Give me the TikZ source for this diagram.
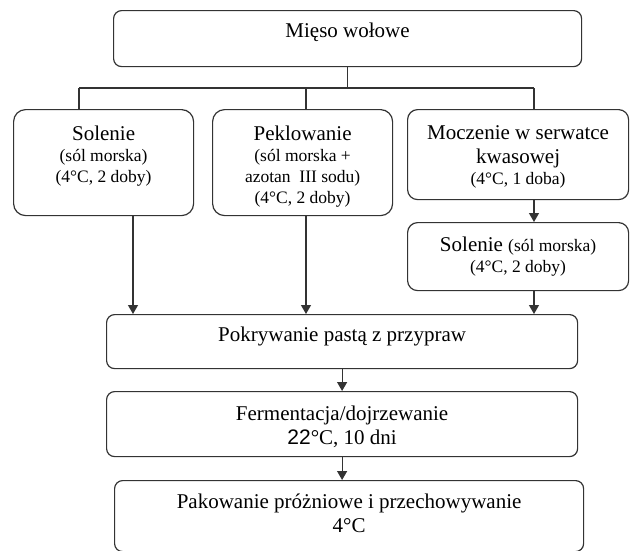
\documentclass[tikz,border=0pt]{standalone}
\usepackage{fontspec}
\setmainfont{Liberation Serif}
\setsansfont{Liberation Sans}
\usetikzlibrary{positioning,arrows.meta}
\newcommand\bigsz{\fontsize{21}{21}\rmfamily\selectfont}
\newcommand\smsz{\fontsize{17.5}{21}\rmfamily\selectfont}
\tikzset{
  stage/.style={draw=black!80,line width=1.2pt,rounded corners=#1,anchor=north west,inner sep=0pt},
  stage/.default=8pt,
  txt/.style={align=center,inner sep=0pt,font=\bigsz},
  line/.style={draw=black!80,line width=1.2pt},
  arr/.style={line,-{Triangle[length=9pt,width=10pt]}}
}
\begin{document}
\begin{tikzpicture}[x=1pt,y=-1pt]
\useasboundingbox (0,0) rectangle (630,550);
\node[stage,minimum width=468pt,minimum height=56pt] (mieso) at (113,10) {};
\node[stage=12pt,minimum width=180pt,minimum height=106pt] (solenie) at (13,109) {};
\node[stage=12pt,minimum width=180pt,minimum height=106pt] (peklowanie) at (212,109) {};
\node[stage=10pt,minimum width=221pt,minimum height=90pt] (moczenie) at (407,109) {};
\node[stage=10pt,minimum width=221pt,minimum height=68pt] (solenieb) at (407,222) {};
\node[stage,minimum width=471pt,minimum height=54pt] (pokrywanie) at (106,314) {};
\node[stage,minimum width=471pt,minimum height=65pt] (fermentacja) at (106,391) {};
\node[stage,minimum width=469pt,minimum height=71pt] (pakowanie) at (114,480) {};

\node[txt,below=12.6pt of mieso.north] {Mięso wołowe};
\node[txt,below=16.6pt of solenie.north] {Solenie\\{\smsz (sól morska)}\\{\smsz (4°C, 2 doby)}};
\node[txt,below=16.6pt of peklowanie.north] {Peklowanie\\{\smsz (sól morska +}\\{\smsz azotan\ \ III sodu)}\\{\smsz (4°C, 2 doby)}};
\node[txt,below=16.6pt of moczenie.north] {Moczenie w serwatce\\[3pt]kwasowej\\{\smsz (4°C, 1 doba)}};
\node[txt,below=14.3pt of solenieb.north] {Solenie {\smsz (sól morska)}\\{\smsz (4°C, 2 doby)}};
\node[txt,below=12.3pt of pokrywanie.north] {Pokrywanie pastą z przypraw};
\node[txt,below=15pt of fermentacja.north] {Fermentacja/dojrzewanie\\[2.5pt]{\sffamily 22}°C, 10 dni};
\node[txt,below=13.6pt of pakowanie.north] {Pakowanie próżniowe i przechowywanie\\[3.5pt]4°C};

\coordinate (jl) at (79,88);
\coordinate (jm) at (306,88);
\coordinate (jr) at (534,88);
\coordinate (c1) at (133,0);

\path[line] (mieso.south) -- (mieso.south |- jl);
\path[line] (jl) -- (jr);
\path[line] (jl) -- (jl |- solenie.north);
\path[line] (jm) -- (jm |- peklowanie.north);
\path[line] (jr) -- (jr |- moczenie.north);
\draw[arr] (moczenie.south -| jr) -- (solenieb.north -| jr);
\draw[arr] (solenie.south -| c1) -- (pokrywanie.north -| c1);
\draw[arr] (peklowanie.south -| jm) -- (pokrywanie.north -| jm);
\draw[arr] (solenieb.south -| jr) -- (pokrywanie.north -| jr);
\draw[arr] (pokrywanie.south) -- (fermentacja.north);
\draw[arr] (fermentacja.south) -- (fermentacja.south |- pakowanie.north);
\end{tikzpicture}
\end{document}
